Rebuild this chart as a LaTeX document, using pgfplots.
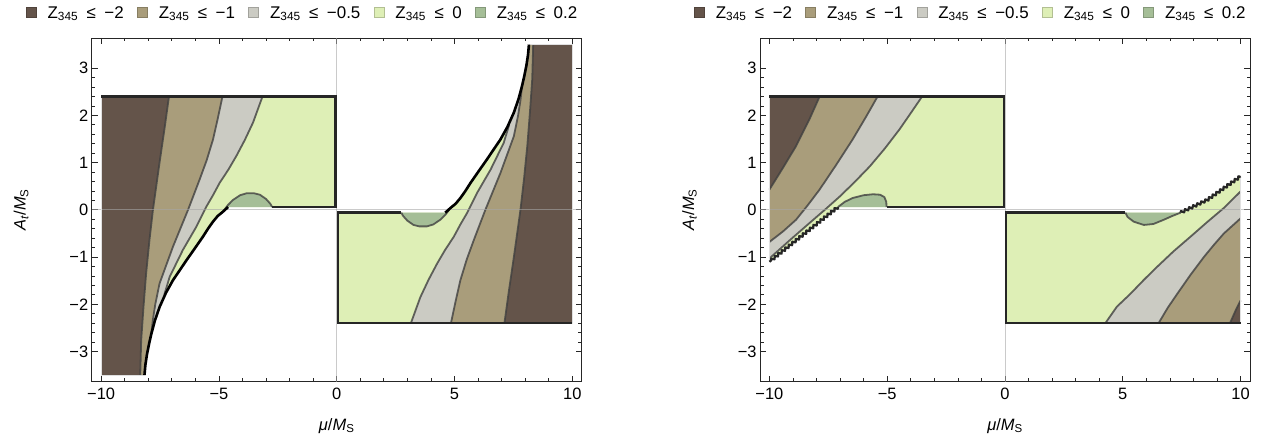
\documentclass[border=0pt]{standalone}
\usepackage{fontspec}
\setmainfont{Liberation Sans}
\usepackage{pgfplots}
\pgfplotsset{compat=1.18}
\usetikzlibrary{decorations.pathmorphing}

\definecolor{cdark}{HTML}{64544A}
\definecolor{ctan}{HTML}{A99D7B}
\definecolor{cgray}{HTML}{CBCBC3}
\definecolor{clight}{HTML}{DEEFB6}
\definecolor{cgreen}{HTML}{A5BE97}

\newcommand{\fs}{\fontsize{16.5}{19}\selectfont}
\newcommand{\lfs}{\fontsize{17}{20}\selectfont}
\newcommand{\zle}[1]{Z\textsubscript{345}\hspace{0.5em}≤\hspace{0.5em}#1}

\pgfplotsset{
  panel/.style={
    anchor=south west,
    scale only axis, width=490bp, height=343.7bp,
    xmin=-10.4, xmax=10.4, ymin=-3.64, ymax=3.64,
    xtick={-10,-5,0,5,10}, xticklabels={−10,−5,0,5,10},
    ytick={-3,-2,-1,0,1,2,3}, yticklabels={−3,−2,−1,0,1,2,3},
    minor x tick num=4, minor y tick num=4,
    tick align=inside, major tick length=6bp, minor tick length=3.5bp,
    axis line style={black!85, line width=0.9bp},
    every tick/.style={black!85, line width=0.8bp},
    tick label style={font=\fs},
    xticklabel style={yshift=-3bp},
    xlabel={\textit{μ}/\textit{M}\textsubscript{S}},
    ylabel={\textit{A}\textsubscript{\textit{t}}/\textit{M}\textsubscript{S}},
    label style={font=\fs},
    xlabel style={at={(axis description cs:0.5,-0.128)}, anchor=center},
    ylabel style={at={(axis description cs:-0.144,0.5)}, anchor=center},
    legend style={draw=none, fill=none, font=\lfs, legend columns=5,
      at={(axis description cs:0.4302,1.0727)}, anchor=center,
      /tikz/every odd column/.append style={column sep=9.3bp},
      /tikz/every even column/.append style={column sep=11.3bp}},
    legend image code/.code={\draw[#1, line width=0.5bp] (0bp,-4.5bp) rectangle (10bp,5.5bp);},
  },
  cont/.style={draw=black!75, draw opacity=0.8, line width=1.8bp, forget plot},
  edge/.style={draw=black!85, line width=2.4bp, forget plot},
  jag/.style={draw=black, line width=2.6bp, line join=round, forget plot},
  saw/.style={draw=black!85, line width=2.2bp, line join=round, forget plot,
    decorate, decoration={zigzag, segment length=4.5bp, amplitude=1.3bp}},
  faint/.style={draw=black!12, line width=0.8bp, forget plot},
  zero/.style={draw=black!35, draw opacity=0.6, line width=1bp, forget plot},
  reg/.style={fill=#1, draw=none, forget plot},
}

\newcommand{\legendentries}{%
  \addlegendimage{fill=cdark, draw=cdark!80!black}
  \addlegendentry{\zle{−2}}
  \addlegendimage{fill=ctan, draw=ctan!80!black}
  \addlegendentry{\zle{−1}}
  \addlegendimage{fill=cgray, draw=cgray!80!black}
  \addlegendentry{\zle{−0.5}}
  \addlegendimage{fill=clight, draw=clight!80!black}
  \addlegendentry{\zle{0}}
  \addlegendimage{fill=cgreen, draw=cgreen!80!black}
  \addlegendentry{\zle{0.2}}
}

\begin{document}
\begin{tikzpicture}[x=1bp,y=1bp]
\useasboundingbox (0,0) rectangle (1287,438);

% ---------------- left panel ----------------
\begin{axis}[panel, at={(91.7bp,56.3bp)}]
\legendentries
% upper-left sector, mu<0, A_t>0
\addplot[reg=clight] coordinates {(-10,-3.5) (-10,2.4) (-0.05,2.4) (-0.05,0.06) (-4.61,0.06) (-4.83,-0.04) (-5.05,-0.13) (-5.25,-0.25) (-5.45,-0.39) (-5.68,-0.57) (-6.0,-0.80) (-6.38,-1.07) (-6.65,-1.27) (-6.95,-1.49) (-7.25,-1.76) (-7.52,-2.06) (-7.72,-2.35) (-7.87,-2.63) (-7.97,-2.85) (-8.05,-3.05) (-8.12,-3.28) (-8.16,-3.5)} -- cycle;
\addplot[reg=cgray] coordinates {(-10,-3.5) (-10,2.4) (-3.15,2.4) (-3.55,1.85) (-3.9,1.48) (-4.26,1.14) (-4.6,0.85) (-4.97,0.57) (-5.25,0.31) (-5.53,0.07) (-5.96,-0.36) (-6.53,-0.85) (-7.09,-1.42) (-7.32,-1.8) (-7.52,-2.06) (-7.72,-2.35) (-7.87,-2.63) (-7.97,-2.85) (-8.05,-3.05) (-8.12,-3.28) (-8.16,-3.5)} -- cycle;
\addplot[reg=ctan] coordinates {(-10,-3.5) (-10,2.4) (-4.85,2.4) (-5.05,1.93) (-5.25,1.49) (-5.52,1.05) (-5.82,0.64) (-6.31,0) (-6.95,-0.78) (-7.52,-1.56) (-7.7,-2.0) (-7.8,-2.32) (-7.87,-2.63) (-7.97,-2.85) (-8.05,-3.05) (-8.12,-3.28) (-8.16,-3.5)} -- cycle;
\addplot[reg=cdark] coordinates {(-10,-3.5) (-10,2.4) (-7.12,2.4) (-7.3,1.75) (-7.52,1.0) (-7.66,0.5) (-7.80,0) (-7.95,-0.65) (-8.09,-1.35) (-8.2,-2.05) (-8.30,-2.77) (-8.34,-3.5)} -- cycle;
\addplot[reg=cgreen] coordinates {(-4.83,-0.04) (-4.62,0.1) (-4.40,0.21) (-4.1,0.31) (-3.83,0.35) (-3.5,0.35) (-3.26,0.32) (-3.0,0.23) (-2.82,0.13) (-2.74,0.06) (-4.61,0.06)} -- cycle;
% lower-right sector, mu>0, A_t<0
\addplot[reg=clight] coordinates {(10,3.5) (10,-2.4) (0.05,-2.4) (0.05,-0.06) (4.61,-0.06) (4.83,0.04) (5.05,0.13) (5.25,0.25) (5.45,0.39) (5.68,0.57) (6.0,0.80) (6.38,1.07) (6.65,1.27) (6.95,1.49) (7.25,1.76) (7.52,2.06) (7.72,2.35) (7.87,2.63) (7.97,2.85) (8.05,3.05) (8.12,3.28) (8.16,3.5)} -- cycle;
\addplot[reg=cgray] coordinates {(10,3.5) (10,-2.4) (3.15,-2.4) (3.55,-1.85) (3.9,-1.48) (4.26,-1.14) (4.6,-0.85) (4.97,-0.57) (5.25,-0.31) (5.53,-0.07) (5.96,0.36) (6.53,0.85) (7.09,1.42) (7.32,1.8) (7.52,2.06) (7.72,2.35) (7.87,2.63) (7.97,2.85) (8.05,3.05) (8.12,3.28) (8.16,3.5)} -- cycle;
\addplot[reg=ctan] coordinates {(10,3.5) (10,-2.4) (4.85,-2.4) (5.05,-1.93) (5.25,-1.49) (5.52,-1.05) (5.82,-0.64) (6.31,0) (6.95,0.78) (7.52,1.56) (7.7,2.0) (7.8,2.32) (7.87,2.63) (7.97,2.85) (8.05,3.05) (8.12,3.28) (8.16,3.5)} -- cycle;
\addplot[reg=cdark] coordinates {(10,3.5) (10,-2.4) (7.12,-2.4) (7.3,-1.75) (7.52,-1.0) (7.66,-0.5) (7.80,0) (7.95,0.65) (8.09,1.35) (8.2,2.05) (8.30,2.77) (8.34,3.5)} -- cycle;
\addplot[reg=cgreen] coordinates {(4.83,0.04) (4.62,-0.1) (4.40,-0.21) (4.1,-0.31) (3.83,-0.35) (3.5,-0.35) (3.26,-0.32) (3.0,-0.23) (2.82,-0.13) (2.74,-0.06) (4.61,-0.06)} -- cycle;
% level lines
\addplot[cont] coordinates {(-3.15,2.4) (-3.55,1.85) (-3.9,1.48) (-4.26,1.14) (-4.6,0.85) (-4.97,0.57) (-5.25,0.31) (-5.53,0.07) (-5.96,-0.36) (-6.53,-0.85) (-7.09,-1.42) (-7.32,-1.8)};
\addplot[cont] coordinates {(-4.85,2.4) (-5.05,1.93) (-5.25,1.49) (-5.52,1.05) (-5.82,0.64) (-6.31,0) (-6.95,-0.78) (-7.52,-1.56) (-7.7,-2.0) (-7.8,-2.32) (-7.87,-2.63)};
\addplot[cont] coordinates {(-7.12,2.4) (-7.3,1.75) (-7.52,1.0) (-7.66,0.5) (-7.80,0) (-7.95,-0.65) (-8.09,-1.35) (-8.2,-2.05) (-8.30,-2.77) (-8.34,-3.5)};
\addplot[cont] coordinates {(-4.83,-0.04) (-4.62,0.1) (-4.40,0.21) (-4.1,0.31) (-3.83,0.35) (-3.5,0.35) (-3.26,0.32) (-3.0,0.23) (-2.82,0.13) (-2.74,0.06)};
\addplot[cont] coordinates {(3.15,-2.4) (3.55,-1.85) (3.9,-1.48) (4.26,-1.14) (4.6,-0.85) (4.97,-0.57) (5.25,-0.31) (5.53,-0.07) (5.96,0.36) (6.53,0.85) (7.09,1.42) (7.32,1.8)};
\addplot[cont] coordinates {(4.85,-2.4) (5.05,-1.93) (5.25,-1.49) (5.52,-1.05) (5.82,-0.64) (6.31,0) (6.95,0.78) (7.52,1.56) (7.7,2.0) (7.8,2.32) (7.87,2.63)};
\addplot[cont] coordinates {(7.12,-2.4) (7.3,-1.75) (7.52,-1.0) (7.66,-0.5) (7.80,0) (7.95,0.65) (8.09,1.35) (8.2,2.05) (8.30,2.77) (8.34,3.5)};
\addplot[cont] coordinates {(4.83,0.04) (4.62,-0.1) (4.40,-0.21) (4.1,-0.31) (3.83,-0.35) (3.5,-0.35) (3.26,-0.32) (3.0,-0.23) (2.82,-0.13) (2.74,-0.06)};
% zero lines
\addplot[zero] coordinates {(-10.4,0) (10.4,0)};
\addplot[zero] coordinates {(0,-3.64) (0,3.64)};
% region borders
\addplot[faint] coordinates {(-8.16,-3.5) (-10,-3.5) (-10,2.4)};
\addplot[faint] coordinates {(8.16,3.5) (10,3.5) (10,-2.4)};
\addplot[edge] coordinates {(-10,2.4) (-0.05,2.4) (-0.05,0.06) (-2.74,0.06)};
\addplot[edge] coordinates {(10,-2.4) (0.05,-2.4) (0.05,-0.06) (2.74,-0.06)};
\addplot[jag] coordinates {(-4.61,0.06) (-4.83,-0.04) (-5.05,-0.13) (-5.25,-0.25) (-5.45,-0.39) (-5.68,-0.57) (-6.0,-0.80) (-6.38,-1.07) (-6.65,-1.27) (-6.95,-1.49) (-7.25,-1.76) (-7.52,-2.06) (-7.72,-2.35) (-7.87,-2.63) (-7.97,-2.85) (-8.05,-3.05) (-8.12,-3.28) (-8.16,-3.5)};
\addplot[jag] coordinates {(4.61,-0.06) (4.83,0.04) (5.05,0.13) (5.25,0.25) (5.45,0.39) (5.68,0.57) (6.0,0.80) (6.38,1.07) (6.65,1.27) (6.95,1.49) (7.25,1.76) (7.52,2.06) (7.72,2.35) (7.87,2.63) (7.97,2.85) (8.05,3.05) (8.12,3.28) (8.16,3.5)};
\end{axis}

% ---------------- right panel ----------------
\begin{axis}[panel, at={(760bp,56.3bp)}]
\legendentries
% upper-left sector
\addplot[reg=clight] coordinates {(-10,-1.10) (-10,2.4) (-0.05,2.4) (-0.05,0.06) (-7.09,0.06) (-8.58,-0.53)} -- cycle;
\addplot[reg=cgray] coordinates {(-10,-1.03) (-10,2.4) (-3.52,2.4) (-4.0,2.05) (-4.47,1.71) (-5.1,1.3) (-5.74,0.92) (-6.4,0.58) (-7.02,0.28) (-7.65,0.0) (-8.30,-0.28) (-9.15,-0.65)} -- cycle;
\addplot[reg=ctan] coordinates {(-10,-0.68) (-10,2.4) (-5.41,2.4) (-5.9,1.97) (-6.47,1.49) (-7.17,0.95) (-7.87,0.43) (-8.37,0.1) (-8.87,-0.21) (-9.43,-0.46)} -- cycle;
\addplot[reg=cdark] coordinates {(-10,0.43) (-10,2.4) (-7.87,2.4) (-8.30,1.92) (-8.87,1.35) (-9.45,0.87)} -- cycle;
\addplot[reg=cgreen] coordinates {(-7.09,0.06) (-6.8,0.17) (-6.47,0.25) (-6.0,0.31) (-5.6,0.33) (-5.3,0.32) (-5.12,0.27) (-5.04,0.17) (-5.03,0.06)} -- cycle;
% lower-right sector
\addplot[reg=clight] coordinates {(0.05,-0.06) (0.05,-2.4) (10,-2.4) (10,0.71) (9.29,0.46) (8.58,0.21) (7.87,0.04) (7.45,-0.06)} -- cycle;
\addplot[reg=cgray] coordinates {(4.26,-2.4) (4.75,-2.05) (5.32,-1.78) (5.9,-1.48) (6.45,-1.21) (7.15,-0.88) (7.87,-0.57) (8.58,-0.26) (9.29,0.04) (10,0.39) (10,-2.4)} -- cycle;
\addplot[reg=ctan] coordinates {(6.52,-2.4) (6.9,-2.08) (7.31,-1.78) (7.87,-1.38) (8.44,-1.0) (8.87,-0.74) (9.29,-0.50) (10,-0.18) (10,-2.4)} -- cycle;
\addplot[reg=cdark] coordinates {(9.55,-2.4) (9.79,-2.13) (10,-1.92) (10,-2.4)} -- cycle;
\addplot[reg=cgreen] coordinates {(5.11,-0.06) (5.2,-0.15) (5.46,-0.25) (5.89,-0.32) (6.3,-0.30) (6.74,-0.21) (7.1,-0.13) (7.45,-0.06)} -- cycle;
% level lines
\addplot[cont] coordinates {(-3.52,2.4) (-4.0,2.05) (-4.47,1.71) (-5.1,1.3) (-5.74,0.92) (-6.4,0.58) (-7.02,0.28) (-7.65,0.0) (-8.30,-0.28) (-9.15,-0.65) (-10,-1.03)};
\addplot[cont] coordinates {(-5.41,2.4) (-5.9,1.97) (-6.47,1.49) (-7.17,0.95) (-7.87,0.43) (-8.37,0.1) (-8.87,-0.21) (-9.43,-0.46) (-10,-0.68)};
\addplot[cont] coordinates {(-7.87,2.4) (-8.30,1.92) (-8.87,1.35) (-9.45,0.87) (-10,0.43)};
\addplot[cont] coordinates {(-7.09,0.06) (-6.8,0.17) (-6.47,0.25) (-6.0,0.31) (-5.6,0.33) (-5.3,0.32) (-5.12,0.27) (-5.04,0.17) (-5.03,0.06)};
\addplot[cont] coordinates {(4.26,-2.4) (4.75,-2.05) (5.32,-1.78) (5.9,-1.48) (6.45,-1.21) (7.15,-0.88) (7.87,-0.57) (8.58,-0.26) (9.29,0.04) (10,0.39)};
\addplot[cont] coordinates {(6.52,-2.4) (6.9,-2.08) (7.31,-1.78) (7.87,-1.38) (8.44,-1.0) (8.87,-0.74) (9.29,-0.50) (10,-0.18)};
\addplot[cont] coordinates {(9.55,-2.4) (9.79,-2.13) (10,-1.92)};
\addplot[cont] coordinates {(5.11,-0.06) (5.2,-0.15) (5.46,-0.25) (5.89,-0.32) (6.3,-0.30) (6.74,-0.21) (7.1,-0.13) (7.45,-0.06)};
% zero lines
\addplot[zero] coordinates {(-10.4,0) (10.4,0)};
\addplot[zero] coordinates {(0,-3.64) (0,3.64)};
% region borders
\addplot[faint] coordinates {(-10,-1.10) (-10,2.4)};
\addplot[faint] coordinates {(10,0.71) (10,-2.4)};
\addplot[edge] coordinates {(-10,2.4) (-0.05,2.4) (-0.05,0.06) (-5.03,0.06)};
\addplot[edge] coordinates {(10,-2.4) (0.05,-2.4) (0.05,-0.06) (5.11,-0.06)};
\addplot[saw] coordinates {(-7.09,0.06) (-8.58,-0.53) (-10,-1.10)};
\addplot[saw] coordinates {(7.45,-0.06) (7.87,0.04) (8.58,0.21) (9.29,0.46) (10,0.71)};
\end{axis}
\end{tikzpicture}
\end{document}
